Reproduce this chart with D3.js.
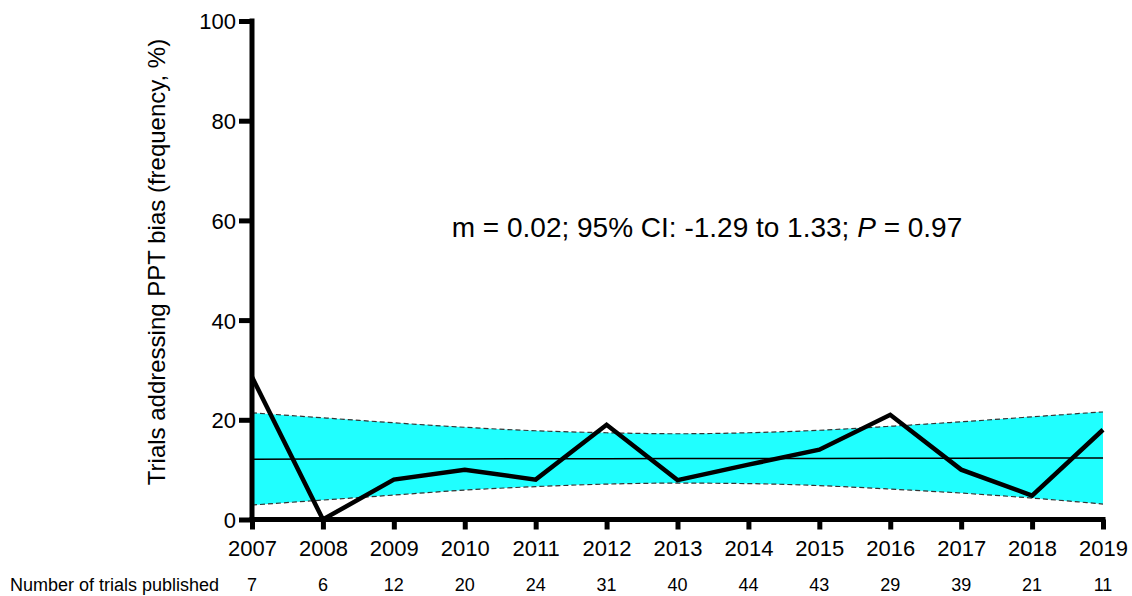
<!DOCTYPE html>
<html>
<head>
<meta charset="utf-8">
<script src="https://cdn.jsdelivr.net/npm/d3@7"></script>
<style>
	body { margin: 0; background: #fff; }
	svg text { font-family: "Liberation Sans", Arial, Helvetica, sans-serif; fill: #000; }
</style>
</head>
<body>
<svg id="chart" width="1132" height="596"></svg>
<script>
const years = [2007, 2008, 2009, 2010, 2011, 2012, 2013, 2014, 2015, 2016, 2017, 2018, 2019];
const trialCounts = [7, 6, 12, 20, 24, 31, 40, 44, 43, 29, 39, 21, 11];
const pctAddressing = [28.6, 0, 8, 10, 8, 19, 7.9, 11, 14, 21, 10, 4.8, 18];
const fitLine = [12.1, 12.12, 12.14, 12.16, 12.18, 12.2, 12.22, 12.24, 12.26, 12.28, 12.3, 12.32, 12.34];
const ciUpper = [21.4, 20.4, 19.4, 18.5, 17.8, 17.4, 17.2, 17.4, 17.9, 18.7, 19.6, 20.6, 21.6];
const ciLower = [2.9, 3.9, 4.9, 5.9, 6.6, 7.1, 7.3, 7.2, 6.8, 6.1, 5.3, 4.3, 3.1];
const yTicks = [0, 20, 40, 60, 80, 100];

const svg = d3.select('#chart');
const x = d3.scaleLinear().domain([2007, 2019]).range([252, 1103]);
const y = d3.scaleLinear().domain([0, 100]).range([519.5, 21]);
const FONT = '"Liberation Sans", Arial, sans-serif';

const rows = years.map((yr, i) => ({
	yr: yr,
	v: pctAddressing[i],
	fit: fitLine[i],
	hi: ciUpper[i],
	lo: ciLower[i],
	n: trialCounts[i],
}));

// confidence band
svg.append('path')
	.datum(rows)
	.attr('fill', '#20ffff')
	.attr('d', d3.area().curve(d3.curveMonotoneX).x(d => x(d.yr)).y0(d => y(d.lo)).y1(d => y(d.hi)));

['hi', 'lo'].forEach(k => {
	svg.append('path')
		.datum(rows)
		.attr('fill', 'none')
		.attr('stroke', '#333')
		.attr('stroke-width', 1.2)
		.attr('stroke-dasharray', '5,3')
		.attr('d', d3.line().curve(d3.curveMonotoneX).x(d => x(d.yr)).y(d => y(d[k])));
});

// regression line
svg.append('path')
	.datum(rows)
	.attr('fill', 'none')
	.attr('stroke', '#000')
	.attr('stroke-width', 1.5)
	.attr('d', d3.line().x(d => x(d.yr)).y(d => y(d.fit)));

// data line
svg.append('path')
	.datum(rows)
	.attr('fill', 'none')
	.attr('stroke', '#000')
	.attr('stroke-width', 4.5)
	.attr('d', d3.line().x(d => x(d.yr)).y(d => y(d.v)));

// axes
const yAxis = svg.append('g')
	.attr('transform', 'translate(252,0)')
	.call(d3.axisLeft(y).tickValues(yTicks).tickSize(13).tickPadding(3).tickSizeOuter(0));
yAxis.select('.domain').attr('stroke-width', 5).attr('d', 'M0,18.5V522');
yAxis.selectAll('.tick line').attr('stroke-width', 5);
yAxis.selectAll('.tick text').attr('font-size', 22).attr('font-family', FONT).attr('dy', '0.36em');

const xAxis = svg.append('g')
	.attr('transform', 'translate(0,519.5)')
	.call(d3.axisBottom(x).tickValues(years).tickFormat(d3.format('d')).tickSize(10).tickPadding(11).tickSizeOuter(0));
xAxis.select('.domain').attr('stroke-width', 5).attr('d', 'M249.5,0H1105.5');
xAxis.selectAll('.tick line').attr('stroke-width', 5);
xAxis.selectAll('.tick text').attr('font-size', 22).attr('font-family', FONT);

// y title
svg.append('text')
	.attr('transform', 'translate(165,262) rotate(-90)')
	.attr('text-anchor', 'middle')
	.attr('font-size', 24)
	.text('Trials addressing PPT bias (frequency, %)');

// annotation
const note = svg.append('text')
	.attr('x', 707)
	.attr('y', 237)
	.attr('text-anchor', 'middle')
	.attr('font-size', 28);
note.append('tspan').text('m = 0.02; 95% CI: -1.29 to 1.33; ');
note.append('tspan').attr('font-style', 'italic').text('P');
note.append('tspan').text(' = 0.97');

// trial counts row
svg.append('text')
	.attr('x', 10)
	.attr('y', 591)
	.attr('font-size', 18)
	.text('Number of trials published');
svg.selectAll('text.count')
	.data(rows)
	.join('text')
	.classed('count', true)
	.attr('x', d => x(d.yr))
	.attr('y', 591)
	.attr('text-anchor', 'middle')
	.attr('font-size', 18)
	.text(d => d.n);
</script>
</body>
</html>
